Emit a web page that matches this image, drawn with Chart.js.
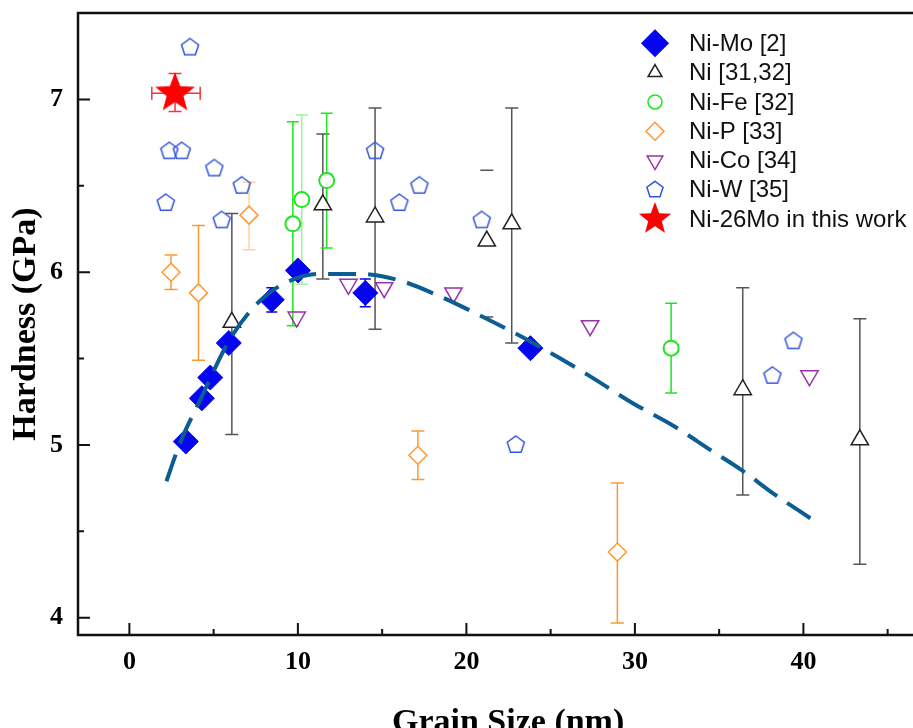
<!DOCTYPE html>
<html>
<head>
<meta charset="utf-8">
<script src="https://cdn.jsdelivr.net/npm/chart.js@4.4.1/dist/chart.umd.min.js"></script>
<style>
  html, body { margin: 0; padding: 0; background: #fff; overflow: hidden; }
  #wrap { width: 960px; height: 745px; }
</style>
</head>
<body>
<div id="wrap"><canvas id="chart"></canvas></div>
<script>
// axis ticks
const xMajor = [0, 10, 20, 30, 40];
const xMinor = [5, 15, 25, 35, 45];
const yMajor = [4, 5, 6, 7];
const yMinor = [4.5, 5.5, 6.5];

// Ni-Mo [2]
const niMoX = [3.35, 4.3, 4.8, 5.9, 8.45, 10.0, 14.0, 23.8];
const niMoY = [5.02, 5.27, 5.39, 5.59, 5.84, 6.01, 5.88, 5.56];
const niMoLo = [null, null, null, null, 5.77, null, 5.80, null];
const niMoHi = [null, null, null, null, 5.91, null, 5.96, null];

// Ni [31,32]
const niX = [6.08, 11.48, 14.58, 21.21, 22.69, 36.4, 43.35];
const niY = [5.71, 6.39, 6.32, 6.18, 6.28, 5.32, 5.03];
const niLo = [5.06, 5.96, 5.67, 5.74, 5.59, 4.71, 4.31];
const niHi = [6.34, 6.80, 6.95, 6.59, 6.95, 5.91, 5.73];

// Ni-Fe [32]
const feX = [9.7, 10.23, 11.71, 32.15];
const feY = [6.28, 6.42, 6.53, 5.56];
const feLo = [5.69, 5.93, 6.14, 5.30];
const feHi = [6.87, 6.91, 6.92, 5.82];

// Ni-P [33]
const pX = [2.47, 4.1, 7.1, 17.12, 28.96];
const pY = [6.0, 5.88, 6.33, 4.94, 4.38];
const pLo = [5.90, 5.49, 6.13, 4.80, 3.97];
const pHi = [6.10, 6.27, 6.52, 5.08, 4.78];

// Ni-Co [34]
const coX = [9.93, 13.0, 15.12, 19.23, 27.34, 40.36];
const coY = [5.74, 5.93, 5.91, 5.88, 5.69, 5.40];

// Ni-W [35]
const wX = [3.6, 2.37, 3.11, 5.04, 6.67, 2.16, 5.48, 14.58, 16.02, 17.21, 20.91, 22.93, 38.16, 39.41];
const wY = [7.3, 6.7, 6.7, 6.6, 6.5, 6.4, 6.3, 6.7, 6.4, 6.5, 6.3, 5.0, 5.4, 5.6];

// Ni-26Mo in this work
const starX = [2.71];
const starY = [7.035];
const starXLo = [1.33];
const starXHi = [4.2];
const starYLo = [6.93];
const starYHi = [7.15];

// dashed fit curve
const fitX = [2.2, 3.0, 4.2, 5.9, 7.4, 9.1, 11.3, 13.7, 16.1, 18.2, 20.8, 23.2, 25.4, 27.3, 29.9, 32.3, 34.5, 36.4, 38.2, 40.5];
const fitY = [4.79, 5.01, 5.26, 5.60, 5.80, 5.93, 5.99, 5.99, 5.95, 5.87, 5.75, 5.63, 5.51, 5.40, 5.24, 5.11, 4.97, 4.85, 4.72, 4.57];

const legendLabels = ['Ni-Mo [2]', 'Ni [31,32]', 'Ni-Fe [32]', 'Ni-P [33]', 'Ni-Co [34]', 'Ni-W [35]', 'Ni-26Mo in this work'];

const serif = '"Liberation Serif", "Times New Roman", serif';

const pts = (xs, ys) => xs.map((x, i) => ({ x, y: ys[i] }));

function tracePath(ctx, kind, x, y, r) {
    ctx.beginPath();
    if (kind === 'pentagon' || kind === 'star') {
        const n = kind === 'star' ? 10 : 5;
        for (let k = 0; k < n; k++) {
            const rr = kind === 'star' && k % 2 ? r * 0.42 : r;
            const a = -Math.PI / 2 + k * Math.PI * 2 / n;
            const px = x + rr * Math.cos(a), py = y + rr * Math.sin(a);
            if (k) ctx.lineTo(px, py); else ctx.moveTo(px, py);
        }
    } else if (kind === 'diamond') {
        ctx.moveTo(x - r, y); ctx.lineTo(x, y - r); ctx.lineTo(x + r, y); ctx.lineTo(x, y + r);
    } else if (kind === 'tri' || kind === 'triDown') {
        const s = kind === 'tri' ? 1 : -1;
        for (let k = 0; k < 3; k++) {
            const a = k * Math.PI * 2 / 3;
            const px = x + Math.sin(a) * r, py = y - s * Math.cos(a) * r;
            if (k) ctx.lineTo(px, py); else ctx.moveTo(px, py);
        }
    } else {
        ctx.arc(x, y, r, 0, Math.PI * 2);
    }
    ctx.closePath();
}

function markerCanvas(kind, r, fill, stroke, lw) {
    const c = document.createElement('canvas');
    const s = Math.ceil(2 * r + lw + 4);
    c.width = c.height = s;
    const g = c.getContext('2d');
    tracePath(g, kind, s / 2, s / 2, r);
    if (fill) { g.fillStyle = fill; g.fill(); }
    if (stroke) { g.strokeStyle = stroke; g.lineWidth = lw; g.stroke(); }
    return c;
}

const colors = {
    niMo: '#0505f0', ni: '#222222', niErr: '#555555', fe: '#1ee61e',
    p: '#ff9933', co: '#9933aa', w: '#3355dd', star: '#ff0000', fit: '#0b5d94'
};

const starImg = markerCanvas('star', 21, colors.star, null, 0);
const pentImg = markerCanvas('pentagon', 9, null, colors.w, 1.5);

const legendMarks = [
    { kind: 'diamond', r: 13, fill: colors.niMo, stroke: colors.niMo },
    { kind: 'tri', r: 8, stroke: colors.ni },
    { kind: 'circle', r: 7, stroke: colors.fe },
    { kind: 'diamond', r: 9, stroke: colors.p },
    { kind: 'triDown', r: 9, stroke: colors.co },
    { kind: 'pentagon', r: 8.5, stroke: colors.w },
    { kind: 'star', r: 17, fill: colors.star }
];

const errorBars = {
    id: 'errorBars',
    beforeDatasetsDraw(chart) {
        const { ctx, scales: { x, y } } = chart;
        chart.data.datasets.forEach(ds => {
            const e = ds.err;
            if (!e) return;
            ctx.save();
            ctx.strokeStyle = e.color;
            ctx.lineWidth = 1.5;
            const cap = e.cap / 2;
            ds.data.forEach((p, j) => {
                const px = x.getPixelForValue(p.x), py = y.getPixelForValue(p.y);
                // a few bars are printed faint in the original figure
                ctx.globalAlpha = (e.faint || []).includes(j) ? 0.45 : 1;
                ctx.beginPath();
                if (e.lo && e.lo[j] != null) {
                    const y1 = y.getPixelForValue(e.lo[j]), y2 = y.getPixelForValue(e.hi[j]);
                    if (!(e.noStem || []).includes(j)) { ctx.moveTo(px, y1); ctx.lineTo(px, y2); }
                    ctx.moveTo(px - cap, y1); ctx.lineTo(px + cap, y1);
                    ctx.moveTo(px - cap, y2); ctx.lineTo(px + cap, y2);
                }
                if (e.xlo && e.xlo[j] != null) {
                    const x1 = x.getPixelForValue(e.xlo[j]), x2 = x.getPixelForValue(e.xhi[j]);
                    ctx.moveTo(x1, py); ctx.lineTo(x2, py);
                    ctx.moveTo(x1, py - cap); ctx.lineTo(x1, py + cap);
                    ctx.moveTo(x2, py - cap); ctx.lineTo(x2, py + cap);
                }
                ctx.stroke();
            });
            ctx.restore();
        });
    }
};

const frame = {
    id: 'frame',
    afterDraw(chart) {
        const { ctx, chartArea: a, scales: { x, y } } = chart;
        ctx.save();
        ctx.strokeStyle = '#111';
        ctx.lineWidth = 2.5;
        ctx.strokeRect(a.left, a.top, a.right - a.left, a.bottom - a.top);
        ctx.lineWidth = 2;
        ctx.beginPath();
        xMajor.concat(xMinor).forEach(v => {
            const px = x.getPixelForValue(v);
            const len = xMajor.includes(v) ? 12 : 6;
            ctx.moveTo(px, a.bottom); ctx.lineTo(px, a.bottom - len);
        });
        yMajor.concat(yMinor).forEach(v => {
            const py = y.getPixelForValue(v);
            const len = yMajor.includes(v) ? 12 : 6;
            ctx.moveTo(a.left, py); ctx.lineTo(a.left + len, py);
        });
        ctx.stroke();

        // legend
        const lx = 655, tx = 689, top = 43.3, step = 29.3;
        ctx.font = '24px "Liberation Sans", Arial, sans-serif';
        ctx.textBaseline = 'middle';
        legendLabels.forEach((label, i) => {
            const m = legendMarks[i];
            const ly = top + i * step;
            tracePath(ctx, m.kind, lx, ly, m.r);
            if (m.fill) { ctx.fillStyle = m.fill; ctx.fill(); }
            if (m.stroke) { ctx.strokeStyle = m.stroke; ctx.lineWidth = 1.5; ctx.stroke(); }
            ctx.fillStyle = '#111';
            ctx.fillText(label, tx, ly + 1);
        });
        ctx.restore();
    }
};

const tickFont = { family: serif, size: 26, weight: 'bold' };
const titleFont = { family: serif, size: 34, weight: 'bold' };

new Chart(document.getElementById('chart'), {
    type: 'scatter',
    data: {
        datasets: [
            {
                label: legendLabels[6], data: pts(starX, starY),
                pointStyle: starImg, pointRadius: 20,
                err: { lo: starYLo, hi: starYHi, xlo: starXLo, xhi: starXHi, color: '#ff3030', cap: 13 }
            },
            {
                label: 'fit', data: pts(fitX, fitY), showLine: true, pointRadius: 0,
                borderColor: colors.fit, borderWidth: 4, borderDash: [28, 12],
                tension: 0.4, cubicInterpolationMode: 'monotone'
            },
            {
                label: legendLabels[0], data: pts(niMoX, niMoY),
                pointStyle: 'rectRot', pointRadius: 12.5,
                backgroundColor: colors.niMo, borderColor: colors.niMo, borderWidth: 1,
                err: { lo: niMoLo, hi: niMoHi, color: colors.niMo, cap: 11 }
            },
            {
                label: legendLabels[1], data: pts(niX, niY),
                pointStyle: 'triangle', pointRadius: 10,
                backgroundColor: '#fff', borderColor: colors.ni, borderWidth: 1.5,
                err: { lo: niLo, hi: niHi, color: colors.niErr, cap: 13, noStem: [3] }
            },
            {
                label: legendLabels[2], data: pts(feX, feY),
                pointStyle: 'circle', pointRadius: 7.5,
                backgroundColor: '#fff', borderColor: colors.fe, borderWidth: 2,
                err: { lo: feLo, hi: feHi, color: colors.fe, cap: 12, faint: [1] }
            },
            {
                label: legendLabels[3], data: pts(pX, pY),
                pointStyle: 'rectRot', pointRadius: 9,
                backgroundColor: '#fff', borderColor: colors.p, borderWidth: 1.5,
                err: { lo: pLo, hi: pHi, color: colors.p, cap: 13, faint: [2] }
            },
            {
                label: legendLabels[4], data: pts(coX, coY),
                pointStyle: 'triangle', rotation: 180, pointRadius: 10,
                backgroundColor: 'rgba(0,0,0,0)', borderColor: colors.co, borderWidth: 1.5
            },
            {
                label: legendLabels[5], data: pts(wX, wY),
                pointStyle: pentImg, pointRadius: 9
            }
        ]
    },
    options: {
        responsive: true,
        maintainAspectRatio: false,
        animation: false,
        devicePixelRatio: 1,
        layout: { autoPadding: false, padding: { top: 13, left: 0, right: 21.8, bottom: 0 } },
        plugins: { legend: { display: false }, tooltip: { enabled: false } },
        scales: {
            x: {
                type: 'linear', min: -3.05, max: 48,
                grid: { display: false, drawTicks: false }, border: { display: false },
                afterBuildTicks: s => { s.ticks = xMajor.map(v => ({ value: v })); },
                afterFit: s => { s.height = 110; s.paddingLeft = 0; s.paddingRight = 0; },
                ticks: { font: tickFont, color: '#000', padding: 12, autoSkip: false, maxRotation: 0 },
                title: { display: true, text: 'Grain Size (nm)', font: titleFont, color: '#000', padding: { top: 0, bottom: 1 } }
            },
            y: {
                type: 'linear', min: 3.9, max: 7.5,
                grid: { display: false, drawTicks: false }, border: { display: false },
                afterBuildTicks: s => { s.ticks = yMajor.map(v => ({ value: v })); },
                afterFit: s => { s.width = 78; s.paddingTop = 0; s.paddingBottom = 0; },
                ticks: { font: tickFont, color: '#000', padding: 15, autoSkip: false },
                title: { display: true, text: 'Hardness (GPa)', font: titleFont, color: '#000', padding: { top: 6, bottom: 0 } }
            }
        }
    },
    plugins: [errorBars, frame]
});
</script>
</body>
</html>
